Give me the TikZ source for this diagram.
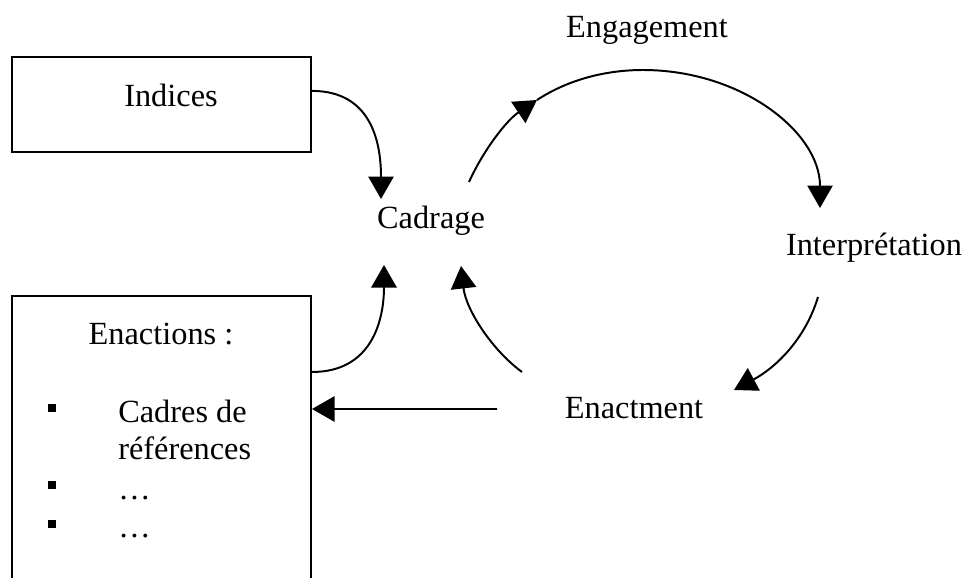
\documentclass[tikz,border=0pt]{standalone}
\usepackage{fontspec}
\setmainfont{Liberation Serif}
\usetikzlibrary{arrows.meta}

\begin{document}
\begin{tikzpicture}[x=0.025cm,y=-0.025cm,
    lbl/.style={font=\fontsize{23}{27}\selectfont,inner sep=0pt,anchor=base},
    box/.style={draw,line width=1.4pt,minimum width=7.475cm,inner sep=0pt},
    bullet/.style={fill,minimum size=0.22cm,inner sep=0pt},
    flow/.style={line width=1.4pt,-{Triangle[length=16pt,width=18pt]}}]
    \clip (0,0) rectangle (966,578);
    \node[box,minimum height=2.375cm] (indbox) at (161.5,104.5) {};
    \node[box,minimum height=7.6cm] (enbox) at (161.5,448) {};
    \node[lbl] (indices) at (171,107) {Indices};
    \node[lbl] (enactions) at (161,344) {Enactions :};
    \node[lbl] (cadrage) at (431,228) {Cadrage};
    \node[lbl] (engagement) at (647,38) {Engagement};
    \node[lbl] (interp) at (874,255) {Interprétation};
    \node[lbl] (enactment) at (634,418) {Enactment};
    \node[lbl,anchor=base west] (cadres) at (118,422) {Cadres de};
    \node[lbl,anchor=base west] (refs) at (118,459) {références};
    \node[lbl,anchor=base west] (etc1) at (118,499) {…};
    \node[lbl,anchor=base west] (etc2) at (118,537) {…};
    \foreach \y/\n in {408/b1,485/b2,524/b3}
        \node[bullet] (\n) at (52,\y) {};
    \coordinate (c1) at (381,199);
    \coordinate (c2) at (384,265);
    \coordinate (c3) at (461,266);
    \coordinate (g0) at (469,182);
    \coordinate (g1) at (537,100);
    \coordinate (i0) at (820,208);
    \coordinate (i1) at (818,297);
    \coordinate (e0) at (734,390);
    \coordinate (e1) at (522,372);
    \coordinate (e2) at (497,409);
    \draw[flow] ([yshift=0.34cm]indbox.east) .. controls (370,91) and (381,140) .. (c1);
    \draw[flow] ([yshift=1.9cm]enbox.east) .. controls (372,372) and (384,320) .. (c2);
    \draw[flow] (e1) .. controls (492,350) and (466,310) .. (c3);
    \draw[flow] (g0) .. controls (484,149) and (507,120) .. (g1);
    \draw[flow] (g1) .. controls (569,79) and (607,70) .. (643,70)
        .. controls (741,70) and (820,132) .. (i0);
    \draw[flow] (i1) .. controls (805,340) and (775,368) .. (e0);
    \draw[flow] (e2) -- ([yshift=0.975cm]enbox.east);
\end{tikzpicture}
\end{document}
